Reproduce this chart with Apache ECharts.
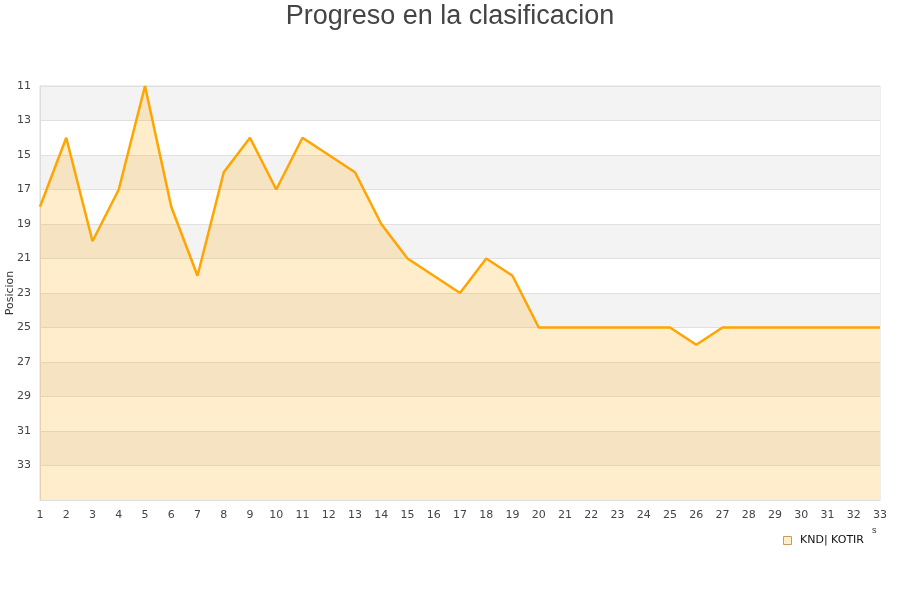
<!DOCTYPE html>
<html><head><meta charset="utf-8">
<script src="https://cdn.jsdelivr.net/npm/echarts@6/dist/echarts.min.js"></script>
<style>html,body{margin:0;padding:0;background:#fff}#c{width:900px;height:600px}</style>
</head><body><div id="c"></div>
<script>
const jornadas = ['1','2','3','4','5','6','7','8','9','10','11','12','13','14','15','16','17','18','19','20','21','22','23','24','25','26','27','28','29','30','31','32','33'];
const posiciones = [18,14,20,17,11,18,22,16,14,17,14,15,16,19,21,22,23,21,22,25,25,25,25,25,25,26,25,25,25,25,25,25,25];
const teamName = 'KND| KOTIR';
const chartTitle = 'Progreso en la clasificacion';
const yName = 'Posicion';

const chart = echarts.init(document.getElementById('c'));
chart.setOption({
  animation: false,
  title: { text: chartTitle, left: 'center', top: -2, textStyle: { fontSize: 27, fontWeight: 'normal', color: '#444', fontFamily: 'Liberation Sans' } },
  grid: { left: 40, right: 20, top: 86, bottom: 100, show: true, borderColor: '#ddd', borderWidth: 1, containLabel: false, outerBoundsMode: 'none' },
  legend: {
    right: 31, top: 530, itemWidth: 8, itemHeight: 8, icon: 'rect',
    formatter: ' {name}',
    textStyle: { fontSize: 11, color: '#111', fontFamily: 'DejaVu Sans' },
    data: [{ name: teamName, itemStyle: { color: '#ffedcc', borderColor: '#c89a60', borderWidth: 1 } }]
  },
  xAxis: {
    type: 'category', data: jornadas, boundaryGap: false,
    axisLine: { lineStyle: { color: '#ddd' } }, axisTick: { show: false },
    axisLabel: { color: '#444', fontSize: 11, margin: 10, fontFamily: 'DejaVu Sans' },
    splitLine: { show: false }
  },
  yAxis: {
    type: 'value', inverse: true, min: 11, max: 35, interval: 2,
    name: yName, nameLocation: 'middle', nameGap: 24, nameMoveOverlap: false,
    nameTextStyle: { fontSize: 11, color: '#333', fontFamily: 'DejaVu Sans' },
    axisLine: { show: true, lineStyle: { color: '#ddd' } }, axisTick: { show: false },
    axisLabel: { color: '#444', fontSize: 11, margin: 9, fontFamily: 'DejaVu Sans', formatter: v => v === 35 ? '' : v },
    splitLine: { show: true, lineStyle: { color: '#e0e0e0' } },
    splitArea: { show: true, areaStyle: { color: ['#f3f3f3', '#ffffff'] } }
  },
  series: [{
    name: teamName, type: 'line', data: posiciones, symbol: 'none',
    lineStyle: { color: '#ffa500', width: 2.5 },
    itemStyle: { color: '#ffa500' },
    areaStyle: { color: 'rgba(255,165,0,0.2)', opacity: 1, origin: 'end' }
  }],
  graphic: [{ type: 'text', left: 872, top: 526, style: { text: 's', fontSize: 9, fill: '#333' } }]
});
</script></body></html>
